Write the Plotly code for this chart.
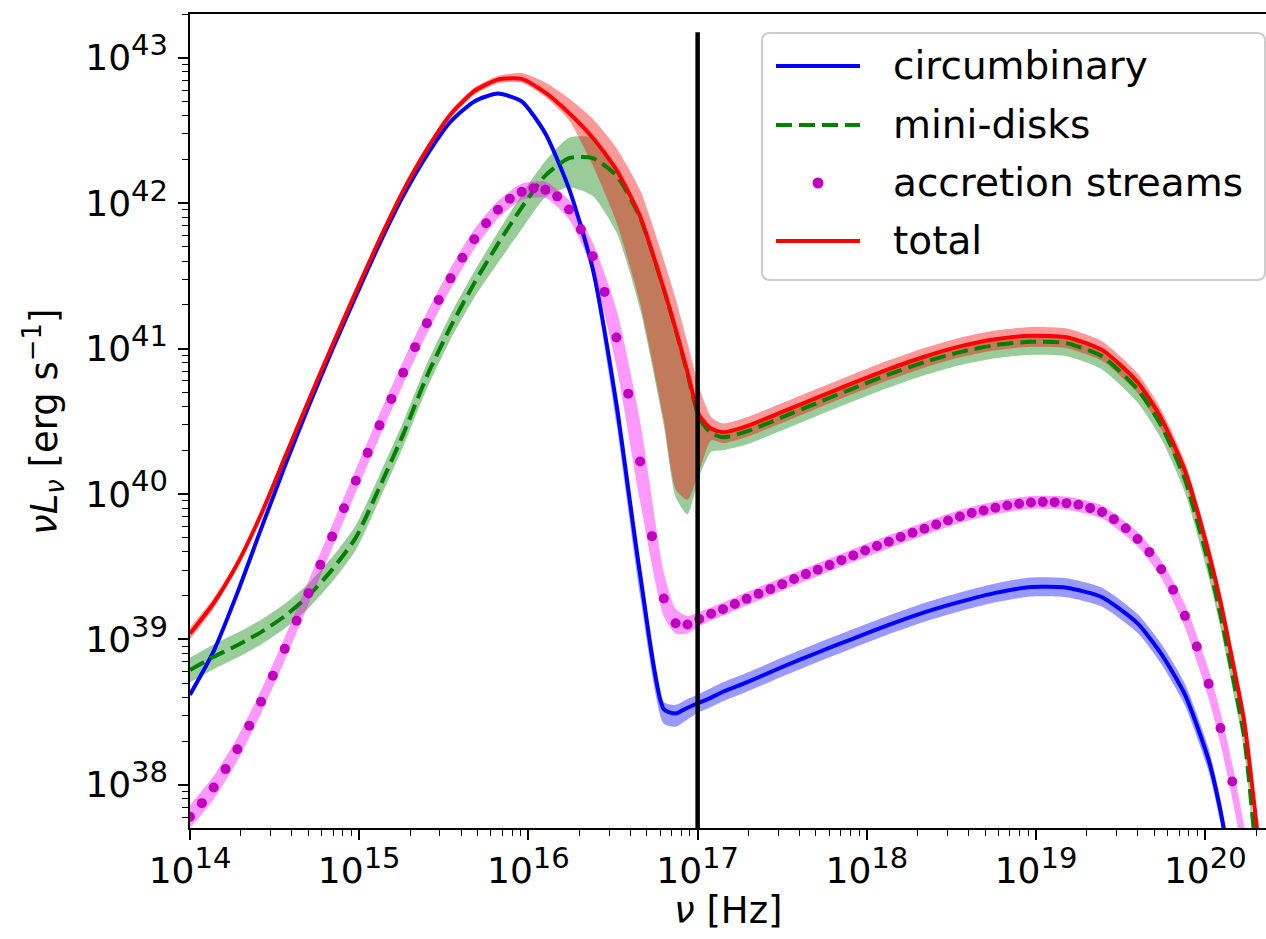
import plotly.graph_objects as go

# ---- frequency grids (log10 nu [Hz]) ----
lognu = [14.00, 14.14, 14.28, 14.42, 14.56, 14.70, 14.84, 14.98, 15.12, 15.26,
         15.40, 15.54, 15.68, 15.82, 15.96, 16.10, 16.24, 16.38, 16.52, 16.66,
         16.80, 16.87, 16.94, 17.01, 17.08, 17.15, 17.29, 17.50, 17.71, 17.92,
         18.13, 18.34, 18.55, 18.76, 18.97, 19.18, 19.39, 19.60, 19.74, 19.88,
         20.02, 20.09, 20.16, 20.23, 20.30, 20.37]

# ---- log10 nuL_nu [erg/s] ----
circumbinary = [38.62, 38.92, 39.32, 39.76, 40.19, 40.60, 40.99, 41.36, 41.72, 42.05,
                42.33, 42.56, 42.70, 42.754, 42.70, 42.48, 42.10, 41.55, 40.62, 39.45,
                38.52, 38.49, 38.53, 38.565, 38.60, 38.64, 38.705, 38.81, 38.91, 39.006,
                39.10, 39.186, 39.258, 39.32, 39.36, 39.355, 39.29, 39.11, 38.90, 38.62,
                38.17, 37.82, 37.35, 36.80, 36.20, 35.50]
circumbinary_dn = [0.012, 0.012, 0.012, 0.012, 0.012, 0.012, 0.012, 0.012, 0.012, 0.012,
                   0.012, 0.012, 0.012, 0.012, 0.012, 0.015, 0.03, 0.06, 0.13, 0.15,
                   0.10, 0.09, 0.08, 0.065, 0.065, 0.065, 0.065, 0.065, 0.065, 0.065,
                   0.065, 0.065, 0.065, 0.065, 0.065, 0.065, 0.065, 0.065, 0.07, 0.075,
                   0.08, 0.08, 0.08, 0.08, 0.08, 0.08]
circumbinary_up = [0.012, 0.012, 0.012, 0.012, 0.012, 0.012, 0.012, 0.012, 0.012, 0.012,
                   0.012, 0.012, 0.012, 0.012, 0.012, 0.015, 0.015, 0.02, 0.03, 0.04,
                   0.05, 0.06, 0.06, 0.06, 0.065, 0.065, 0.065, 0.065, 0.065, 0.065,
                   0.065, 0.065, 0.065, 0.065, 0.065, 0.065, 0.065, 0.065, 0.07, 0.075,
                   0.08, 0.08, 0.08, 0.08, 0.08, 0.08]

minidisks = [38.79, 38.88, 38.96, 39.05, 39.16, 39.30, 39.48, 39.70, 40.046, 40.41,
             40.81, 41.15, 41.45, 41.72, 41.97, 42.19, 42.31, 42.31, 42.19, 41.90,
             41.41, 41.13, 40.83, 40.52, 40.42, 40.39, 40.43, 40.528, 40.628, 40.727,
             40.822, 40.907, 40.976, 41.024, 41.047, 41.037, 40.947, 40.72, 40.47, 40.10,
             39.52, 39.17, 38.76, 38.33, 37.53, 36.70]
minidisks_dn = [0.085, 0.085, 0.085, 0.085, 0.085, 0.085, 0.085, 0.085, 0.085, 0.085,
                0.085, 0.085, 0.10, 0.13, 0.15, 0.15, 0.20, 0.26, 0.39, 0.63,
                0.94, 1.15, 0.97, 0.40, 0.13, 0.09, 0.09, 0.09, 0.09, 0.09,
                0.09, 0.09, 0.09, 0.09, 0.09, 0.09, 0.09, 0.09, 0.09, 0.09,
                0.09, 0.09, 0.09, 0.09, 0.09, 0.09]
minidisks_up = [0.085, 0.085, 0.085, 0.085, 0.085, 0.085, 0.085, 0.085, 0.085, 0.085,
                0.085, 0.085, 0.08, 0.08, 0.09, 0.10, 0.14, 0.14, 0.06, 0.03,
                0.02, 0.02, 0.03, 0.04, 0.04, 0.045, 0.045, 0.045, 0.045, 0.045,
                0.045, 0.045, 0.045, 0.045, 0.045, 0.045, 0.045, 0.045, 0.045, 0.045,
                0.045, 0.045, 0.045, 0.045, 0.045, 0.045]

streams_lo = [37.70, 37.90, 38.165, 38.49, 38.855, 39.24, 39.627, 40.01, 40.39, 40.755,
              41.10, 41.41, 41.685, 41.895, 42.023, 42.037, 41.89, 41.54, 40.88, 39.95,
              39.16, 39.04, 39.04, 39.09, 39.13, 39.163, 39.234, 39.335, 39.434, 39.532,
              39.626, 39.716, 39.80, 39.86, 39.897, 39.892, 39.831, 39.64, 39.423, 39.082,
              38.595, 38.28, 37.903, 37.48, 37.01, 36.48]
streams_hi = [37.86, 38.06, 38.325, 38.65, 39.015, 39.40, 39.787, 40.17, 40.55, 40.915,
              41.25, 41.555, 41.82, 42.015, 42.133, 42.147, 42.02, 41.73, 41.27, 40.50,
              39.46, 39.21, 39.16, 39.19, 39.22, 39.253, 39.324, 39.425, 39.524, 39.622,
              39.716, 39.806, 39.89, 39.95, 39.987, 39.982, 39.921, 39.74, 39.543, 39.242,
              38.795, 38.50, 38.143, 37.72, 37.25, 36.72]

total = [39.04, 39.25, 39.52, 39.86, 40.25, 40.64, 41.02, 41.39, 41.75, 42.085,
         42.37, 42.61, 42.77, 42.85, 42.855, 42.76, 42.62, 42.45, 42.23, 41.91,
         41.41, 41.135, 40.84, 40.54, 40.45, 40.425, 40.467, 40.565, 40.665, 40.764,
         40.859, 40.944, 41.015, 41.064, 41.088, 41.078, 40.991, 40.77, 40.52, 40.16,
         39.60, 39.26, 38.86, 38.44, 37.76, 37.00]
total_dn = [0.04, 0.035, 0.025, 0.025, 0.025, 0.025, 0.025, 0.025, 0.025, 0.025,
            0.025, 0.025, 0.025, 0.025, 0.025, 0.03, 0.05, 0.19, 0.36, 0.60,
            0.90, 1.10, 0.88, 0.38, 0.08, 0.075, 0.075, 0.075, 0.075, 0.075,
            0.075, 0.075, 0.075, 0.075, 0.075, 0.075, 0.075, 0.075, 0.075, 0.075,
            0.075, 0.075, 0.075, 0.075, 0.075, 0.075]
total_up = [0.04, 0.035, 0.025, 0.025, 0.025, 0.025, 0.025, 0.025, 0.025, 0.025,
            0.025, 0.025, 0.025, 0.025, 0.04, 0.07, 0.10, 0.13, 0.15, 0.18,
            0.20, 0.21, 0.20, 0.19, 0.08, 0.06, 0.06, 0.06, 0.06, 0.06,
            0.06, 0.06, 0.06, 0.06, 0.06, 0.06, 0.06, 0.06, 0.06, 0.06,
            0.06, 0.06, 0.06, 0.06, 0.06, 0.06]

# accretion-stream spectrum sampled on the fine grid (markers)
stream_lognu = [14.00, 14.07, 14.14, 14.21, 14.28, 14.35, 14.42, 14.49, 14.56, 14.63,
                14.70, 14.77, 14.84, 14.91, 14.98, 15.05, 15.12, 15.19, 15.26, 15.33,
                15.40, 15.47, 15.54, 15.61, 15.68, 15.75, 15.82, 15.89, 15.96, 16.03,
                16.10, 16.17, 16.24, 16.31, 16.38, 16.45, 16.52, 16.59, 16.66, 16.73,
                16.80, 16.87, 16.94, 17.01, 17.08, 17.15, 17.22, 17.29, 17.36, 17.43,
                17.50, 17.57, 17.64, 17.71, 17.78, 17.85, 17.92, 17.99, 18.06, 18.13,
                18.20, 18.27, 18.34, 18.41, 18.48, 18.55, 18.62, 18.69, 18.76, 18.83,
                18.90, 18.97, 19.04, 19.11, 19.18, 19.25, 19.32, 19.39, 19.46, 19.53,
                19.60, 19.67, 19.74, 19.81, 19.88, 19.95, 20.02, 20.09, 20.16]
streams = [37.780, 37.874, 37.982, 38.108, 38.245, 38.406, 38.571, 38.750, 38.935, 39.128,
           39.318, 39.513, 39.707, 39.902, 40.091, 40.283, 40.472, 40.654, 40.834, 41.010,
           41.175, 41.334, 41.483, 41.625, 41.752, 41.862, 41.955, 42.031, 42.078, 42.102,
           42.092, 42.047, 41.957, 41.820, 41.635, 41.390, 41.076, 40.690, 40.223, 39.710,
           39.281, 39.111, 39.102, 39.140, 39.176, 39.208, 39.243, 39.279, 39.314, 39.346,
           39.380, 39.415, 39.449, 39.479, 39.511, 39.545, 39.577, 39.611, 39.642, 39.671,
           39.704, 39.733, 39.761, 39.790, 39.818, 39.845, 39.869, 39.887, 39.905, 39.921,
           39.933, 39.942, 39.946, 39.944, 39.937, 39.926, 39.903, 39.876, 39.827, 39.765,
           39.690, 39.600, 39.483, 39.341, 39.162, 38.951, 38.695, 38.390, 38.023]

marker_nu = 1e17          # vertical reference line
marker_top = 1.5e43

x_range = [14.0, 20.359]
y_range = [37.703, 43.301]
major_exp = [14, 15, 16, 17, 18, 19, 20]
y_major_exp = [38, 39, 40, 41, 42, 43]

# ---- layout geometry in pixels ----
W, H = 1266, 939
L, R, T, B = 190, 0, 14, 111
PW, PH = W - L - R, H - T - B
SMOOTH = 0.6


def px(xp):
    return (xp - L) / PW


def py(yp):
    return (H - B - yp) / PH


def pw(v):
    return 10.0 ** v


def power_label(e):
    return "10<sup><span style='font-size:29px'>%d</span></sup>" % e


nu = [pw(v) for v in lognu]


def add_band(fig, lo_log, hi_log, fillcolor):
    """Shaded range between a lower and an upper edge (log10 values)."""
    fig.add_trace(go.Scatter(x=nu, y=[pw(v) for v in lo_log], mode="lines",
                             line=dict(width=0, shape="spline", smoothing=SMOOTH),
                             hoverinfo="skip", showlegend=False))
    fig.add_trace(go.Scatter(x=nu, y=[pw(v) for v in hi_log], mode="lines",
                             line=dict(width=0, shape="spline", smoothing=SMOOTH),
                             fill="tonexty", fillcolor=fillcolor,
                             hoverinfo="skip", showlegend=False))


fig = go.Figure()

# uncertainty bands
add_band(fig, [c - d for c, d in zip(circumbinary, circumbinary_dn)],
         [c + u for c, u in zip(circumbinary, circumbinary_up)], "rgba(0,0,255,0.4)")
add_band(fig, [c - d for c, d in zip(minidisks, minidisks_dn)],
         [c + u for c, u in zip(minidisks, minidisks_up)], "rgba(0,128,0,0.4)")
add_band(fig, streams_lo, streams_hi, "rgba(255,0,255,0.4)")
add_band(fig, [c - d for c, d in zip(total, total_dn)],
         [c + u for c, u in zip(total, total_up)], "rgba(255,0,0,0.4)")

# central curves
fig.add_trace(go.Scatter(x=nu, y=[pw(v) for v in circumbinary], mode="lines",
                         line=dict(color="#0000ff", width=4, shape="spline", smoothing=SMOOTH),
                         name="circumbinary"))
fig.add_trace(go.Scatter(x=nu, y=[pw(v) for v in minidisks], mode="lines",
                         line=dict(color="#008000", width=4, dash="16px,7px",
                                   shape="spline", smoothing=SMOOTH),
                         name="mini-disks"))
fig.add_trace(go.Scatter(x=[pw(v) for v in stream_lognu], y=[pw(v) for v in streams],
                         mode="markers", marker=dict(color="#bf00bf", size=10),
                         name="accretion streams"))
fig.add_trace(go.Scatter(x=nu, y=[pw(v) for v in total], mode="lines",
                         line=dict(color="#ff0000", width=4, shape="spline", smoothing=SMOOTH),
                         name="total"))

fig.add_trace(go.Scatter(x=[marker_nu, marker_nu], y=[1e37, marker_top], mode="lines",
                         line=dict(color="black", width=4.5), showlegend=False,
                         hoverinfo="skip"))

tick_font = dict(family="DejaVu Sans", size=36, color="black")
title_font = dict(family="DejaVu Sans", size=37, color="black")
legend_font = dict(family="DejaVu Sans", size=39, color="black")

minor_x = [m * pw(e) for e in range(13, 21) for m in range(2, 10)]
minor_y = [m * pw(e) for e in range(37, 44) for m in range(2, 10)]

fig.update_layout(
    width=W, height=H,
    margin=dict(l=L, r=R, t=T, b=B),
    paper_bgcolor="white", plot_bgcolor="white",
    showlegend=False,
    xaxis=dict(type="log", range=x_range, showgrid=False, zeroline=False,
               showline=True, linecolor="black", linewidth=1.6, mirror=True,
               ticks="outside", ticklen=10, tickwidth=1.6, tickcolor="black",
               tickvals=[pw(e) for e in major_exp],
               ticktext=[power_label(e) for e in major_exp],
               tickfont=tick_font,
               minor=dict(ticks="outside", ticklen=6, tickwidth=1.2,
                          tickcolor="black", tickvals=minor_x)),
    yaxis=dict(type="log", range=y_range, showgrid=False, zeroline=False,
               showline=True, linecolor="black", linewidth=1.6, mirror=False,
               ticks="outside", ticklen=10, tickwidth=1.6, tickcolor="black",
               tickvals=[pw(e) for e in y_major_exp],
               ticktext=[power_label(e) for e in y_major_exp],
               tickfont=tick_font, ticklabelstandoff=3,
               minor=dict(ticks="outside", ticklen=6, tickwidth=1.2,
                          tickcolor="black", tickvals=minor_y)),
)

# axis titles
fig.add_annotation(text="<i>ν</i> [Hz]", xref="paper", yref="paper",
                   x=0.5, y=py(911), xanchor="center", yanchor="middle",
                   showarrow=False, font=title_font)
fig.add_annotation(text="<i>νL</i><sub><i>ν</i></sub> [erg s<sup>−1</sup>]",
                   xref="paper", yref="paper", x=px(44), y=py(422),
                   xanchor="center", yanchor="middle", textangle=-90,
                   showarrow=False, font=title_font)

# legend frame with rounded corners
x0, x1, y0, y1, r = 762, 1265, 33, 280, 8
rx, ry = r / PW, r / PH
X0, X1, Y0, Y1 = px(x0), px(x1), py(y0), py(y1)
path = (f"M {X0 + rx} {Y0} L {X1 - rx} {Y0} Q {X1} {Y0} {X1} {Y0 - ry} "
        f"L {X1} {Y1 + ry} Q {X1} {Y1} {X1 - rx} {Y1} "
        f"L {X0 + rx} {Y1} Q {X0} {Y1} {X0} {Y1 + ry} "
        f"L {X0} {Y0 - ry} Q {X0} {Y0} {X0 + rx} {Y0} Z")
fig.add_shape(type="path", path=path, xref="paper", yref="paper",
              fillcolor="rgba(255,255,255,0.8)", line=dict(color="#cccccc", width=2),
              layer="above")

legend_rows = [("circumbinary", 66), ("mini-disks", 125),
               ("accretion streams", 183), ("total", 241)]
legend_styles = [dict(color="#0000ff", width=4), dict(color="#008000", width=4, dash="16px,7px"),
                 None, dict(color="#ff0000", width=4)]
for (label, yrow), st in zip(legend_rows, legend_styles):
    if st is None:
        d = 5.5
        fig.add_shape(type="circle", xref="paper", yref="paper",
                      x0=px(818 - d), x1=px(818 + d), y0=py(yrow + d), y1=py(yrow - d),
                      fillcolor="#bf00bf", line=dict(width=0), layer="above")
    else:
        fig.add_shape(type="line", xref="paper", yref="paper",
                      x0=px(776), x1=px(860), y0=py(yrow), y1=py(yrow),
                      line=st, layer="above")
    fig.add_annotation(text=label, xref="paper", yref="paper", x=px(891), y=py(yrow),
                       xanchor="left", yanchor="middle", showarrow=False, font=legend_font)

fig.write_html("out.html")
